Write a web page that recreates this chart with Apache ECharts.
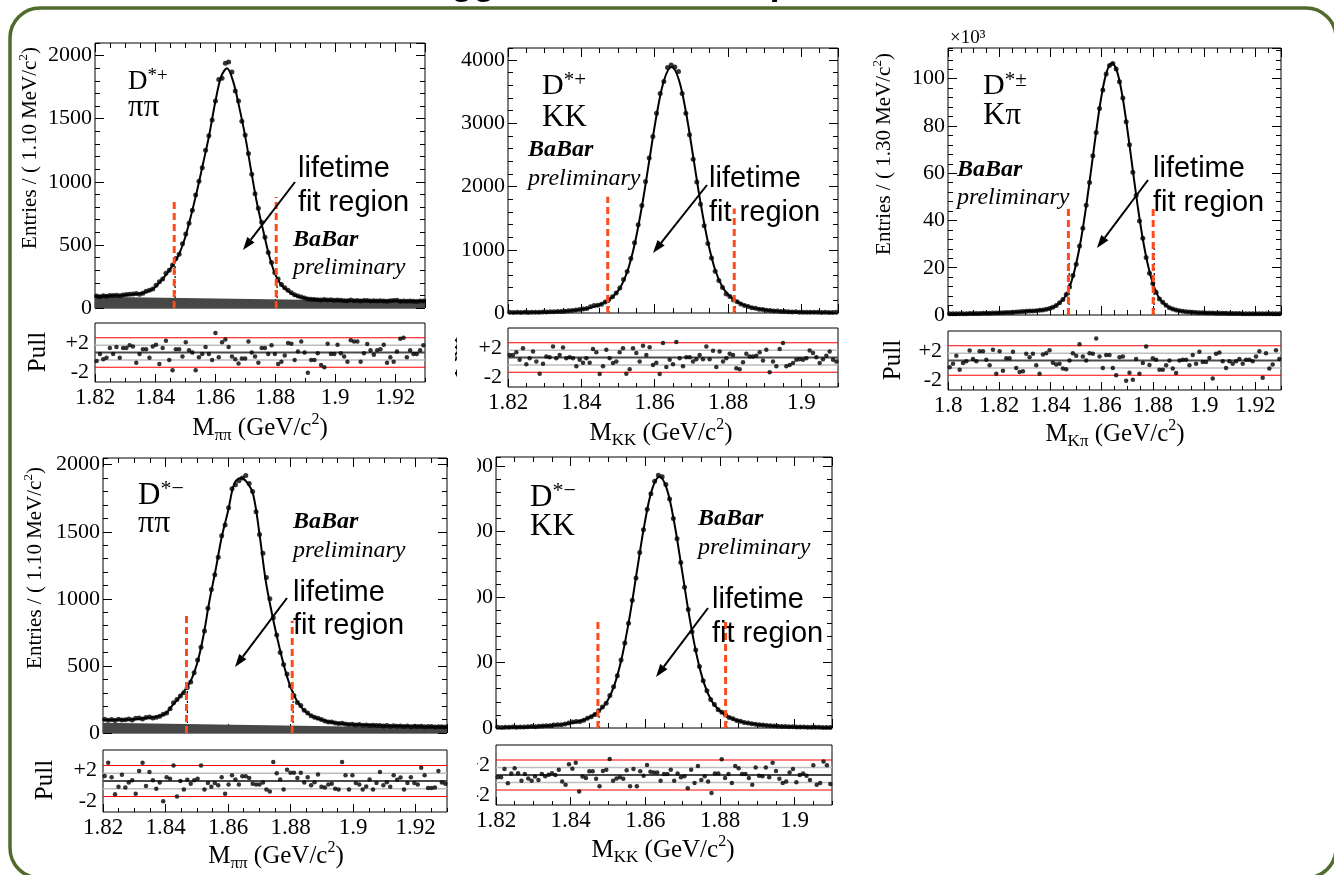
<!DOCTYPE html>
<html>
<head>
<meta charset="utf-8">
<title>D0 mass fits</title>
<script src="https://cdn.jsdelivr.net/npm/echarts@6.0.0/dist/echarts.min.js"></script>
<style>
html,body{margin:0;padding:0;background:#fff;}
#chart{width:1334px;height:875px;}
</style>
</head>
<body>
<div id="chart"></div>
<script>
// ================= DATA =================
// Panel 1 : D*+ -> pi pi
const p1Range = [1.82, 1.93];
const p1YMax = 2100;
const p1Counts = [96,90,97,93,100,99,101,97,104,106,
 108,110,115,109,117,133,140,150,180,208,
 230,276,300,340,392,425,510,586,671,775,
 895,1005,1112,1250,1365,1490,1640,1810,1820,1940,
 1950,1870,1720,1640,1480,1370,1225,1060,905,790,
 680,560,440,360,280,230,186,160,140,120,
 105,96,88,80,72,70,68,66,63,67,
 64,66,61,63,62,58,57,63,58,60,
 56,59,60,55,58,56,58,55,53,57,
 60,61,54,56,53,55,54,52,55,56];
const p1CurveStart = 1.82, p1CurveStep = 0.002;
const p1Curve = [93,94,95,97,99,102,106,111,119,135,
 165,215,275,342,425,555,732,928,1143,1362,
 1620,1830,1900,1800,1600,1370,1095,830,620,420,
 270,185,140,108,88,78,72,68,65,63,
 62,61,60,60,59,59,58,58,57,57,
 57,56,56,55,55,55];
const p1Bkg = [90, 52];
const p1Pull = [-1.15,-0.2,-0.9,-0.7,0.6,-0.2,0.75,-0.7,0.6,0.6,
 1.0,0.8,-1.4,-0.2,0.45,0.45,-0.7,0.8,1.05,-1.55,
 0.6,1.6,-1.0,-2.4,0.45,0.45,-0.55,1.4,0.3,0,
 -2.4,-0.65,-0.2,0.75,-0.2,-1.0,2.65,-0.65,1.4,1.75,
 0.75,-0.55,-0.9,-1.5,-0.8,-0.8,1.5,0,-0.55,-1.4,
 0.6,0.6,-0.2,1.0,-0.2,-1.55,-1.25,-0.4,1.3,1.2,
 -1.0,0.15,1.5,0,-2.75,-1.0,-1.0,-0.1,-1.7,-2.0,
 1.2,-0.2,-0.2,1.05,-0.1,-0.55,-1.25,1.65,1.5,1.5,
 -1.25,-0.1,1.15,0.3,-0.3,0.3,0.45,1.05,-1.4,-0.65,
 -1.25,0.15,1.85,2.0,-0.65,0.3,-0.2,-0.2,0.3,1.0];
const p1CutX = [1.8464, 1.8804], p1CutTop = [865, 880];
const p1DotX = [1.8467, 1.8807], p1DotTop = [354, 240];

// Panel 2 : D*+ -> K K
const p2Range = [1.82, 1.91];
const p2YMax = 4190;
const p2Counts = [10,8,11,9,12,9,13,11,10,15,
 15,19,20,22,25,28,36,38,47,55,
 64,70,98,118,122,140,172,215,258,318,
 395,530,655,860,1110,1395,1700,2080,2450,2790,
 3160,3470,3660,3880,3920,3890,3820,3470,3160,2820,
 2430,2070,1720,1380,1100,870,660,515,405,300,
 262,205,178,142,118,102,82,74,60,55,
 42,40,33,31,24,25,19,17,18,13,
 12,11,12,10,11,9,10,9,8,10];
const p2CurveStart = 1.8206, p2CurveStep = 0.002;
const p2Curve = [9,9,10,11,13,16,20,26,34,45,62,85,120,175,262,400,665,1104,1712,2438,3154,3689,
 3888,
 3689,3154,2438,1712,1104,665,400,262,175,120,85,62,45,34,26,20,16,13,11,10,9,9];
const p2Pull = [0.35,0.35,0.7,-0.3,1.25,-0.9,-0.1,0.8,-0.55,-2.2,
 -0.85,0.15,0.05,1.5,-0.1,0.35,1.35,-0.1,0.05,-0.1,
 -1.2,-0.3,-0.7,-0.1,-0.7,1.15,0.7,-2.25,-1.2,1.05,
 -0.1,-0.75,-0.55,0.7,1.25,-2.2,-1.6,1.25,0.6,-0.55,
 1.6,0.35,1.4,-1.0,-0.7,-2.25,1.95,-1.3,-0.3,-0.9,
 2.1,-0.1,-1.2,0.05,0.05,-0.55,-0.25,0.35,-0.25,1.5,
 -0.25,0.9,-1.3,0.8,-0.55,-0.1,0.5,0.35,-1.45,-1.6,
 -0.65,0.5,0.15,0.15,0.25,0.7,-0.4,1.05,-2.0,-0.55,
 -1.2,1.15,1.95,-1.2,-1.0,-0.75,-0.3,-0.25,-0.3,-0.1,
 0.95,0.6,0.05,-0.75,-0.25,0.25,0.8,-0.3,-0.55];
const p2CutX = [1.8472, 1.8817], p2CutTop = [1838, 1654];
const p2DotX = [1.8475, 1.8820], p2DotTop = [200, 160];

// Panel 3 : D*+- -> K pi  (values in units of 10^3)
const p3Range = [1.80, 1.93];
const p3YMax = 113;
const p3Counts = [0.5,0.5,0.5,0.52,0.55,0.58,0.6,0.6,0.63,0.66,
 0.7,0.73,0.76,0.8,0.85,0.9,0.97,1.04,1.1,1.17,
 1.25,1.35,1.44,1.55,1.64,1.74,1.84,1.97,2.15,2.4,
 2.7,3.3,4.05,5.2,6.6,8.7,11.9,16.7,21.5,29.2,
 36.7,46.5,56.1,67.4,77.2,87.4,95.2,102.0,105.6,106.4,
 104.1,98.7,91.8,81.8,72.1,60.4,50.6,39.8,32.5,24.3,
 17.7,13.3,9.6,6.8,5.4,4.1,3.1,2.5,2.1,1.75,
 1.55,1.4,1.28,1.18,1.1,1.0,0.93,0.88,0.85,0.82,
 0.78,0.75,0.72,0.69,0.66,0.62,0.6,0.6,0.58,0.55,
 0.55,0.53,0.5,0.5,0.5,0.5,0.5,0.5,0.5,0.5];
const p3CurveStart = 1.80, p3CurveStep = 0.002;
const p3Curve = [0.5,0.5,0.5,0.55,0.6,0.6,0.65,0.7,0.75,0.8,
 0.9,1.0,1.1,1.2,1.35,1.5,1.65,1.8,2.0,2.3,
 2.8,3.9,5.5,8.2,13.5,21.5,32.5,46.5,62.5,78.8,
 93.2,103.0,106.5,103.0,93.2,78.8,62.5,46.5,32.5,21.4,
 13.3,8.0,5.1,3.4,2.4,1.8,1.5,1.3,1.15,1.0,
 0.9,0.85,0.8,0.75,0.7,0.65,0.6,0.6,0.55,0.55,
 0.5,0.5,0.5,0.5,0.5,0.5];
const p3Pull = [-0.9,-0.45,0.65,-1.25,-0.35,-0.1,1.35,0.2,-0.1,1.25,
 1.25,0.1,-0.65,1.45,-1.8,1.25,-1.4,0.3,0.3,1.2,
 -1.0,-1.55,-1.45,0.9,0.45,0.9,-0.65,-1.8,0.8,1.0,
 1.4,-0.3,-0.55,-0.45,-1.1,-1.2,0,1.0,0.65,2.2,
 0.55,0,1.0,0.9,3.0,0.55,-1.0,0.75,0.75,-1.0,
 -2.0,0.45,0.55,-2.75,-1.65,-2.6,0.2,-1.8,-0.35,1.9,
 -0.6,0.3,0.1,-1.25,-1.25,-0.65,0,-1.1,-1.7,0,
 0.1,0.1,-0.65,0.75,-0.45,1.2,-0.2,-0.2,0.35,-2.45,
 0.9,1.1,-0.1,-1.0,-0.1,-0.45,-0.1,0.2,-0.45,0.1,
 0.1,-0.1,0.55,1.25,-2.35,1.0,-1.1,-0.55,1.4,0.2];
const p3CutX = [1.8470, 1.8801], p3CutTop = [45, 45];
const p3DotX = [1.8473, 1.8805], p3DotTop = [26, 30];

// Panel 4 : D*- -> pi pi
const p4Range = [1.82, 1.93];
const p4YMax = 2050;
const p4Counts = [103,95,100,94,102,97,98,104,96,110,
 112,105,115,120,112,117,125,140,150,180,
 225,250,275,300,340,380,450,545,640,760,
 930,1070,1180,1310,1470,1550,1680,1820,1850,1880,
 1900,1920,1860,1800,1650,1480,1340,1160,1000,860,
 730,600,510,440,350,280,228,205,170,150,
 128,118,110,100,90,82,82,74,70,72,
 68,63,65,60,63,57,60,56,58,55,
 56,52,55,51,54,50,53,49,52,47,
 50,48,51,46,48,49,44,47,46,44];
const p4CurveStart = 1.82, p4CurveStep = 0.002;
const p4Curve = [97,97,98,99,100,102,106,113,118,125,
 145,200,255,315,385,510,710,980,1215,1465,
 1655,1860,1900,1870,1780,1490,1140,893,680,490,
 340,240,175,138,112,98,85,76,70,66,
 63,61,59,57,55,54,53,52,51,50,
 49,48,47,46,46,45];
const p4Bkg = [77, 37];
const p4Pull = [0.65,2.35,0.5,-1.7,-0.75,0.8,-0.85,-0.2,0.1,-1.65,
 1.3,2.35,-0.65,1.15,0.1,-1.0,-0.2,-2.6,0.5,0.3,
 2.0,-2.0,0,-1.1,0.15,-0.35,0.1,0.3,2.0,-1.1,
 -0.25,-0.75,-0.25,-0.55,0.5,-1.65,-0.45,0.75,0.2,-0.45,
 0.6,0.6,0.4,-0.35,-0.45,-0.45,-0.2,-1.1,-1.35,2.45,
 1.0,0.2,-1.1,1.45,1.05,1.05,0.4,1.05,-0.2,0.5,
 -0.55,-0.15,0.85,-0.75,-0.85,-0.45,-0.35,-1.0,-1.1,2.45,
 0.75,-1.1,0.75,-0.25,-0.45,-1.1,-0.7,0.2,-1.1,-0.25,
 1.15,-0.55,-0.15,-0.75,0.75,0.15,0.45,-1.1,-0.25,0.5,
 -0.25,-0.45,1.7,0.75,-0.9,-0.9,-0.85,1.3,-0.2,-0.35];
const p4CutX = [1.8467, 1.8805], p4CutTop = [887, 837];
const p4DotX = [1.8470, 1.8808], p4DotTop = [346, 334];

// Panel 5 : D*- -> K K
const p5Range = [1.82, 1.91];
const p5YMax = 4140;
const p5Counts = [10,8,12,11,14,12,16,17,18,22,
 21,27,30,33,35,44,48,50,62,75,
 90,98,100,120,150,172,205,262,320,380,
 495,630,800,1040,1300,1600,1950,2290,2680,3030,
 3340,3580,3770,3860,3840,3720,3500,3200,2890,2530,
 2150,1810,1470,1190,940,720,570,435,360,280,
 240,198,160,140,115,102,85,78,64,58,
 49,45,37,35,29,28,23,22,19,18,
 16,14,14,12,11,10,10,9,9,8];
const p5CurveStart = 1.8218, p5CurveStep = 0.002;
const p5Curve = [10,12,14,17,21,26,33,42,55,72,95,130,185,270,410,670,1100,1700,2415,3120,3645,
 3840,
 3645,3120,2415,1700,1100,670,410,270,185,130,95,72,55,42,33,26,21,17,14,12,10,9,8];
const p5Pull = [-0.3,-0.3,0.8,-1.1,0.2,0.9,0.25,-0.75,0.15,-0.45,
 -0.75,-0.2,-0.65,0.15,-0.15,0.05,0.25,0,0.7,-0.85,
 -1.3,1.45,0.85,1.65,-2.2,-0.2,-0.4,0.5,0.5,-0.5,
 -1.5,0.55,0.7,2.15,-0.75,-0.45,-0.3,-0.5,0.65,-1.5,
 0.8,-1.5,0.5,-0.1,1.35,0.45,0.35,0.35,-0.75,0.15,
 0.15,0.7,-0.75,0.2,-0.3,-0.15,-1.75,0.7,-1.05,1.2,
 -0.65,-0.15,-0.85,-2.4,0.2,0.2,2.1,-0.4,0.15,-1.05,
 1.2,0.9,0.15,0.15,-0.4,-1.3,1.0,-0.1,-0.15,1.0,
 -0.3,1.65,0.55,-0.5,-1.05,-0.85,0.35,0.8,-0.95,0,
 0.2,-0.1,-0.65,1.3,-1.3,-1.05,1.8,1.3,-1.2];
const p5CutX = [1.8473, 1.8815], p5CutTop = [1623, 1675];
const p5DotX = [1.8476, 1.8818], p5DotTop = [200, 200];

// pull reference levels: red at +-2, grey at +-1, dark at 0
const pullRed = [2, -2], pullGrey = [1, -1], pullZero = [0];

// ================= BUILD =================
const SERIF = "'Liberation Serif','Times New Roman',serif";
const SANS = "'Liberation Sans',Arial,Helvetica,sans-serif";
const grids = [], xAxes = [], yAxes = [], series = [], graphics = [];

function gridRect(r) {
  return {left: r[0], top: r[1], width: r[2], height: r[3], show: true,
    borderColor: '#000', borderWidth: 1, backgroundColor: 'rgba(0,0,0,0)',
    containLabel: false, outerBoundsMode: 'none'};
}
function xAx(gi, min, max, interval, pos, len, labels) {
  xAxes.push({type: 'value', gridIndex: gi, min: min, max: max, interval: interval, position: pos,
    axisLine: {show: false, onZero: false}, splitLine: {show: false},
    axisTick: {show: true, inside: true, length: len, lineStyle: {color: '#000', width: 1}},
    axisLabel: {show: !!labels, margin: 4, fontSize: 23, color: '#000', fontFamily: SERIF,
      showMaxLabel: false, formatter: function (v) { return String(+(+v).toFixed(3)); }}});
  return xAxes.length - 1;
}
function yAx(gi, min, max, interval, pos, len, labels) {
  yAxes.push({type: 'value', gridIndex: gi, min: min, max: max, interval: interval, position: pos,
    axisLine: {show: false, onZero: false}, splitLine: {show: false},
    axisTick: {show: true, inside: true, length: len, lineStyle: {color: '#000', width: 1}},
    axisLabel: {show: !!labels, margin: 3, fontSize: 22, color: '#000', fontFamily: SERIF,
      showMaxLabel: false, formatter: function (v) { return String(v); }}});
  return yAxes.length - 1;
}
function yPull(gi) {
  yAxes.push({type: 'value', gridIndex: gi, min: -4, max: 4, interval: 2, position: 'left',
    axisLine: {show: false, onZero: false}, splitLine: {show: false}, axisTick: {show: false},
    axisLabel: {show: true, margin: 6, fontSize: 22, color: '#000', fontFamily: SERIF,
      verticalAlign: 'top', lineHeight: 10,
      formatter: function (v) { return v === 2 ? '+2' : (v === -2 ? '-2' : ''); }}});
  return yAxes.length - 1;
}
function hline(xi, yi, r0, r1, level, color, width) {
  series.push({type: 'line', xAxisIndex: xi, yAxisIndex: yi, data: [[r0, level], [r1, level]],
    symbol: 'none', lineStyle: {color: color, width: width}, z: 2, silent: true});
}

function panel(c) {
  const gm = grids.length; grids.push(gridRect(c.mainRect));
  const gp = grids.length; grids.push(gridRect(c.pullRect));
  const r0 = c.range[0], r1 = c.range[1];
  const xm = xAx(gm, r0, r1, 0.02, 'bottom', 9, false);
  xAx(gm, r0, r1, 0.005, 'bottom', 5, false);
  xAx(gm, r0, r1, 0.02, 'top', 9, false);
  xAx(gm, r0, r1, 0.005, 'top', 5, false);
  const ym = yAx(gm, 0, c.ymax, c.yMajor, 'left', 9, true);
  yAx(gm, 0, c.ymax, c.yMinor, 'left', 5, false);
  yAx(gm, 0, c.ymax, c.yMajor, 'right', 9, false);
  yAx(gm, 0, c.ymax, c.yMinor, 'right', 5, false);
  const xp = xAx(gp, r0, r1, 0.02, 'bottom', 8, true);
  xAx(gp, r0, r1, 0.005, 'bottom', 4, false);
  const yp = yPull(gp);
  const w = r1 - r0;
  if (c.bkg) {
    series.push({type: 'line', xAxisIndex: xm, yAxisIndex: ym, data: [[r0, c.bkg[0]], [r1, c.bkg[1]]],
      symbol: 'none', lineStyle: {width: 0}, areaStyle: {color: '#474747', opacity: 1}, z: 1, silent: true});
  }
  series.push({type: 'line', xAxisIndex: xm, yAxisIndex: ym,
    data: c.curve.map(function (v, j) { return [c.curveStart + j * c.curveStep, v]; }),
    smooth: 0.35, symbol: 'none', lineStyle: {color: '#000', width: 2}, z: 3, silent: true});
  series.push({type: 'scatter', xAxisIndex: xm, yAxisIndex: ym,
    data: c.counts.map(function (v, i) { return [r0 + (i + 0.5) * w / c.counts.length, v]; }),
    symbol: 'circle', symbolSize: 5, itemStyle: {color: '#000'}, z: 4, silent: true});
  c.dotX.forEach(function (x, k) {
    series.push({type: 'line', xAxisIndex: xm, yAxisIndex: ym, data: [[x, 0], [x, c.dotTop[k]]],
      symbol: 'none', lineStyle: {color: '#000', width: 1.2, type: [2, 3]}, z: 5, silent: true});
  });
  c.cutX.forEach(function (x, k) {
    series.push({type: 'line', xAxisIndex: xm, yAxisIndex: ym, data: [[x, 0], [x, c.cutTop[k]]],
      symbol: 'none', lineStyle: {color: '#ff4a1c', width: 3, type: [7, 4]}, z: 6, silent: true});
  });
  pullGrey.forEach(function (l) { hline(xp, yp, r0, r1, l, '#bdbdbd', 1.5); });
  pullRed.forEach(function (l) { hline(xp, yp, r0, r1, l, '#ff0000', 1); });
  pullZero.forEach(function (l) { hline(xp, yp, r0, r1, l, '#4a4a4a', 2); });
  series.push({type: 'scatter', xAxisIndex: xp, yAxisIndex: yp,
    data: c.pullVals.map(function (v, i) { return [r0 + (i + 0.5) * w / c.pullVals.length, v]; }),
    symbol: 'circle', symbolSize: 4.5, itemStyle: {color: '#000'}, z: 5, silent: true});
}

panel({mainRect: [95, 43, 330, 265], pullRect: [95, 323, 330, 59], range: p1Range, ymax: p1YMax, yMajor: 500, yMinor: 100,
  counts: p1Counts, curve: p1Curve, curveStart: p1CurveStart, curveStep: p1CurveStep, bkg: p1Bkg, pullVals: p1Pull,
  cutX: p1CutX, cutTop: p1CutTop, dotX: p1DotX, dotTop: p1DotTop});
panel({mainRect: [508, 48, 330, 265], pullRect: [508, 328, 330, 59], range: p2Range, ymax: p2YMax, yMajor: 1000, yMinor: 200,
  counts: p2Counts, curve: p2Curve, curveStart: p2CurveStart, curveStep: p2CurveStep, bkg: null, pullVals: p2Pull,
  cutX: p2CutX, cutTop: p2CutTop, dotX: p2DotX, dotTop: p2DotTop});
panel({mainRect: [948, 48, 333, 267], pullRect: [948, 331, 333, 59], range: p3Range, ymax: p3YMax, yMajor: 20, yMinor: 4,
  counts: p3Counts, curve: p3Curve, curveStart: p3CurveStart, curveStep: p3CurveStep, bkg: null, pullVals: p3Pull,
  cutX: p3CutX, cutTop: p3CutTop, dotX: p3DotX, dotTop: p3DotTop});
panel({mainRect: [103, 458, 344, 275], pullRect: [103, 750, 344, 62], range: p4Range, ymax: p4YMax, yMajor: 500, yMinor: 100,
  counts: p4Counts, curve: p4Curve, curveStart: p4CurveStart, curveStep: p4CurveStep, bkg: p4Bkg, pullVals: p4Pull,
  cutX: p4CutX, cutTop: p4CutTop, dotX: p4DotX, dotTop: p4DotTop});
panel({mainRect: [496, 457, 336, 271], pullRect: [496, 745, 336, 60], range: p5Range, ymax: p5YMax, yMajor: 1000, yMinor: 200,
  counts: p5Counts, curve: p5Curve, curveStart: p5CurveStart, curveStep: p5CurveStep, bkg: null, pullVals: p5Pull,
  cutX: p5CutX, cutTop: p5CutTop, dotX: p5DotX, dotTop: p5DotTop});

// ---------- annotations ----------
function T(x, base, text, fs, fam, o) {
  o = o || {};
  const el = {type: 'text', x: x, y: base - 0.3 * fs, z: 50, silent: true,
    style: {text: text, fontSize: fs, fontFamily: fam, fill: '#000',
      fontWeight: o.bold ? 'bold' : 'normal', fontStyle: o.italic ? 'italic' : 'normal',
      align: o.align || 'left', verticalAlign: 'middle'}};
  if (o.rich) el.style.rich = o.rich;
  graphics.push(el);
}
function Dlab(x, base, sup, fs) {
  T(x, base, '{d|D}{s|' + sup + '}', fs, SERIF, {rich: {
    d: {fontSize: fs, fontFamily: SERIF, lineHeight: Math.round(fs * 1.1)},
    s: {fontSize: Math.round(fs * 0.7), fontFamily: SERIF, verticalAlign: 'top'}}});
}
function arrow(x1, y1, x2, y2) {
  const a = Math.atan2(y2 - y1, x2 - x1), L = 13, W = 4.5;
  const bx = x2 - L * Math.cos(a), by = y2 - L * Math.sin(a);
  graphics.push({type: 'line', z: 50, silent: true, shape: {x1: x1, y1: y1, x2: bx, y2: by}, style: {stroke: '#000', lineWidth: 2}});
  graphics.push({type: 'polygon', z: 50, silent: true, shape: {points: [[x2, y2],
    [bx + W * Math.sin(a), by - W * Math.cos(a)], [bx - W * Math.sin(a), by + W * Math.cos(a)]]}, style: {fill: '#000'}});
}
function xTitle(cx, cy, sub) {
  graphics.push({type: 'text', x: cx, y: cy, z: 50, silent: true, style: {
    text: '{m|M}{b|' + sub + '}{m| (GeV/c}{p|2}{m|)}', align: 'center', verticalAlign: 'middle', fill: '#000',
    rich: {m: {fontSize: 25, fontFamily: SERIF, lineHeight: 33}, b: {fontSize: 17, fontFamily: SERIF, verticalAlign: 'bottom'},
      p: {fontSize: 16, fontFamily: SERIF, verticalAlign: 'top'}}}});
}
function yTitle(cx, cy, bin) {
  graphics.push({type: 'text', x: cx, y: cy, rotation: Math.PI / 2, z: 50, silent: true, style: {
    text: '{m|Entries / ( ' + bin + ' MeV/c}{p|2}{m|)}', align: 'center', verticalAlign: 'middle', fill: '#000',
    rich: {m: {fontSize: 21, fontFamily: SERIF, lineHeight: 26}, p: {fontSize: 13, fontFamily: SERIF, verticalAlign: 'top'}}}});
}
function pullTitle(cx, cy) {
  graphics.push({type: 'text', x: cx, y: cy, rotation: Math.PI / 2, z: 50, silent: true, style: {
    text: 'Pull', fontSize: 25, fontFamily: SERIF, align: 'center', verticalAlign: 'middle', fill: '#000'}});
}
function fitRegion(x, b1, b2) {
  T(x, b1, 'lifetime', 29, SANS);
  T(x, b2, 'fit region', 29, SANS);
}
function babar(x, b1, b2) {
  T(x, b1, 'BaBar', 24, SERIF, {bold: true, italic: true});
  T(x, b2, 'preliminary', 24, SERIF, {italic: true});
}

// slide frame + title
graphics.push({type: 'rect', z: 0, silent: true, shape: {x: 10, y: 8, width: 1326, height: 870, r: 30},
  style: {fill: 'none', stroke: '#4f6b2d', lineWidth: 3.5}});
T(413, -5, 'Tagged D\u2070 mass samples', 36, SANS, {bold: true, italic: true});

// panel 1
Dlab(128, 90, '*+', 27); T(128, 117, '\u03c0\u03c0', 31, SERIF);
fitRegion(298, 178, 212); babar(293, 247, 275); arrow(295, 182, 243, 250);
yTitle(30, 148, '1.10'); pullTitle(38, 352); xTitle(260, 428, '\u03c0\u03c0');
// panel 2
Dlab(542, 95, '*+', 30); T(542, 127, 'KK', 31, SERIF);
babar(528, 157, 186); fitRegion(709, 188, 222); arrow(707, 185, 653, 253);
pullTitle(450, 357); xTitle(661, 433, 'KK');
// panel 3
T(950, 44, '\u00d710\u00b3', 19, SERIF);
Dlab(983, 95, '*\u00b1', 30); T(983, 125, 'K\u03c0', 31, SERIF);
babar(957, 177, 205); fitRegion(1153, 178, 212); arrow(1148, 180, 1097, 248);
yTitle(884, 154, '1.30'); pullTitle(893, 360); xTitle(1115, 434, 'K\u03c0');
// panel 4
Dlab(138, 505, '*\u2212', 31); T(138, 533, '\u03c0\u03c0', 32, SERIF);
babar(293, 529, 558); fitRegion(293, 602, 635); arrow(287, 598, 235, 667);
yTitle(35, 568, '1.10'); pullTitle(45, 780); xTitle(276, 856, '\u03c0\u03c0');
// panel 5
Dlab(530, 507, '*\u2212', 31); T(530, 536, 'KK', 31, SERIF);
babar(698, 526, 555); fitRegion(712, 609, 643); arrow(708, 608, 656, 677);
xTitle(663, 850, 'KK');

// overlap covers (left pictures lie on top of the neighbouring ones)
graphics.push({type: 'rect', z: 100, silent: true, shape: {x: 428, y: 320, width: 27, height: 80}, style: {fill: '#fff'}});
graphics.push({type: 'rect', z: 100, silent: true, shape: {x: 449, y: 445, width: 28, height: 425}, style: {fill: '#fff'}});

const chart = echarts.init(document.getElementById('chart'), null, {renderer: 'canvas'});
chart.setOption({
  backgroundColor: '#fff',
  animation: false,
  textStyle: {fontFamily: SERIF},
  grid: grids, xAxis: xAxes, yAxis: yAxes, series: series,
  graphic: {elements: graphics}
});
</script>
</body>
</html>
